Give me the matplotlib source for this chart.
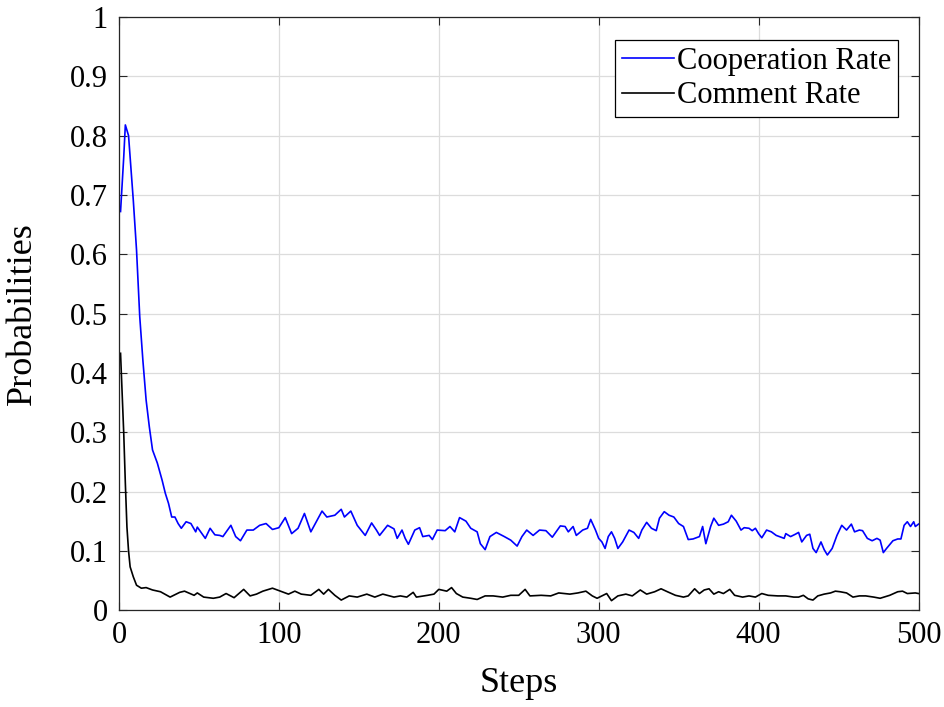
import matplotlib
matplotlib.use("Agg")
import matplotlib.pyplot as plt

plt.rcParams['font.family'] = ['Liberation Serif', 'DejaVu Serif']

# values (step, rate)
coop_steps = [1, 3, 4, 6, 9, 11, 13, 15, 17, 19, 21, 24, 27, 29, 31, 33, 35, 37, 39, 42,
              45, 48, 49, 54, 57, 60, 63, 65, 70, 73, 76, 80, 84, 88, 92, 96, 100, 104, 108, 112,
              116, 120, 124, 127, 130, 135, 139, 141, 145, 149, 154, 158, 161, 163, 168, 172, 174, 177, 179, 181,
              185, 188, 190, 194, 196, 199, 204, 207, 210, 213, 217, 220, 224, 226, 229, 232, 236, 241, 245, 249,
              252, 255, 259, 263, 267, 271, 276, 279, 281, 284, 286, 290, 293, 295, 298, 300, 302, 304, 306, 308,
              310, 312, 315, 319, 322, 325, 327, 330, 333, 336, 338, 341, 344, 347, 350, 353, 356, 359, 363, 365,
              367, 370, 372, 375, 378, 381, 383, 386, 389, 391, 394, 396, 398, 400, 402, 405, 408, 411, 413, 416,
              417, 420, 423, 425, 427, 430, 432, 434, 436, 439, 441, 443, 446, 449, 452, 455, 458, 460, 463, 465,
              468, 471, 474, 476, 478, 480, 484, 487, 489, 491, 493, 495, 497, 498, 500]
coop_rate = [0.672, 0.764, 0.818, 0.800, 0.690, 0.607, 0.495, 0.420, 0.354, 0.309, 0.270, 0.248, 0.219, 0.197, 0.180, 0.157, 0.157, 0.146, 0.138, 0.149,
             0.146, 0.132, 0.140, 0.121, 0.138, 0.127, 0.126, 0.124, 0.143, 0.124, 0.117, 0.135, 0.135, 0.143, 0.146, 0.136, 0.139, 0.156, 0.129, 0.138,
             0.163, 0.132, 0.152, 0.167, 0.157, 0.160, 0.170, 0.157, 0.167, 0.143, 0.126, 0.147, 0.135, 0.126, 0.143, 0.137, 0.121, 0.135, 0.121, 0.111,
             0.135, 0.139, 0.124, 0.126, 0.119, 0.135, 0.134, 0.141, 0.132, 0.156, 0.150, 0.138, 0.132, 0.112, 0.102, 0.124, 0.131, 0.124, 0.118, 0.108,
             0.124, 0.135, 0.126, 0.135, 0.134, 0.123, 0.142, 0.141, 0.132, 0.141, 0.126, 0.135, 0.138, 0.153, 0.135, 0.121, 0.115, 0.104, 0.124, 0.132,
             0.121, 0.104, 0.115, 0.135, 0.131, 0.121, 0.135, 0.148, 0.138, 0.134, 0.155, 0.166, 0.160, 0.157, 0.146, 0.141, 0.119, 0.120, 0.124, 0.141,
             0.112, 0.141, 0.155, 0.143, 0.145, 0.149, 0.160, 0.150, 0.135, 0.139, 0.138, 0.134, 0.138, 0.129, 0.122, 0.135, 0.132, 0.126, 0.124, 0.121,
             0.129, 0.124, 0.128, 0.131, 0.115, 0.126, 0.128, 0.104, 0.097, 0.115, 0.102, 0.093, 0.104, 0.126, 0.143, 0.135, 0.145, 0.132, 0.135, 0.134,
             0.121, 0.117, 0.121, 0.118, 0.097, 0.104, 0.117, 0.120, 0.120, 0.143, 0.149, 0.141, 0.149, 0.141, 0.145]

comment_steps = [1, 3, 4, 5, 6, 7, 9, 11, 14, 17, 21, 26, 32, 38, 41, 47, 49, 53, 59, 63,
                 67, 72, 78, 82, 86, 90, 96, 101, 106, 110, 114, 120, 125, 128, 131, 135, 139, 144, 149, 155,
                 160, 165, 172, 176, 180, 184, 186, 193, 197, 200, 205, 208, 211, 215, 220, 224, 229, 234, 240, 245,
                 250, 254, 257, 264, 270, 275, 282, 287, 292, 296, 299, 302, 305, 308, 312, 317, 321, 326, 330, 335,
                 339, 343, 348, 353, 356, 360, 363, 366, 369, 372, 375, 378, 382, 385, 390, 394, 398, 402, 406, 412,
                 417, 422, 425, 428, 431, 434, 437, 441, 445, 448, 451, 455, 459, 463, 467, 472, 476, 482, 487, 490,
                 493, 498, 500]
comment_rate = [0.433, 0.298, 0.214, 0.140, 0.100, 0.073, 0.056, 0.042, 0.037, 0.038, 0.034, 0.031, 0.022, 0.030, 0.032, 0.025, 0.029, 0.022, 0.020, 0.022,
                0.028, 0.021, 0.035, 0.024, 0.027, 0.032, 0.037, 0.032, 0.027, 0.032, 0.027, 0.025, 0.035, 0.027, 0.035, 0.025, 0.017, 0.024, 0.022, 0.027,
                0.022, 0.027, 0.022, 0.024, 0.022, 0.030, 0.022, 0.025, 0.027, 0.035, 0.032, 0.038, 0.028, 0.022, 0.020, 0.018, 0.024, 0.024, 0.022, 0.025,
                0.025, 0.035, 0.024, 0.025, 0.024, 0.029, 0.027, 0.029, 0.032, 0.024, 0.020, 0.024, 0.028, 0.016, 0.024, 0.027, 0.024, 0.034, 0.027, 0.031,
                0.036, 0.031, 0.025, 0.022, 0.024, 0.036, 0.028, 0.034, 0.036, 0.027, 0.031, 0.028, 0.035, 0.025, 0.022, 0.024, 0.022, 0.028, 0.025, 0.024,
                0.024, 0.022, 0.022, 0.025, 0.019, 0.017, 0.024, 0.027, 0.029, 0.032, 0.031, 0.029, 0.022, 0.024, 0.024, 0.022, 0.020, 0.025, 0.031, 0.032,
                0.028, 0.029, 0.028]

x_ticks = [0, 100, 200, 300, 400, 500]
y_ticks = [0, 0.1, 0.2, 0.3, 0.4, 0.5, 0.6, 0.7, 0.8, 0.9, 1]
y_tick_labels = ['0', '0.1', '0.2', '0.3', '0.4', '0.5', '0.6', '0.7', '0.8', '0.9', '1']

fig = plt.figure(figsize=(9.44, 7.07), dpi=100)
ax = fig.add_axes([0.126, 0.137, 0.847, 0.839])

ax.plot(coop_steps, coop_rate, color='#0000ff', linewidth=1.2, label='Cooperation Rate')
ax.plot(comment_steps, comment_rate, color='black', linewidth=1.2, label='Comment Rate')

ax.set_xlim(0, 500)
ax.set_ylim(0, 1)
ax.set_xticks(x_ticks)
ax.set_yticks(y_ticks)
ax.set_yticklabels(y_tick_labels)
ax.tick_params(direction='in', length=6, width=0.8, top=True, right=True,
               labelsize=22, colors='#262626', labelcolor='black', pad=8)
ax.grid(True, color='#dcdcdc', linewidth=0.9)
ax.set_axisbelow(True)
for s in ax.spines.values():
    s.set_color('#262626')
    s.set_linewidth(0.9)

ax.set_xlabel('Steps', fontsize=26, labelpad=12)
ax.set_ylabel('Probabilities', fontsize=26, labelpad=22)

leg = ax.legend(loc='upper right', bbox_to_anchor=(0.974, 0.961), borderaxespad=0,
                fontsize=22, fancybox=False, framealpha=1, edgecolor='black',
                handlelength=1.7, handletextpad=0.1, labelspacing=0.18,
                borderpad=0.22)
leg.get_frame().set_linewidth(0.9)

fig.savefig('out.png', dpi=100)
